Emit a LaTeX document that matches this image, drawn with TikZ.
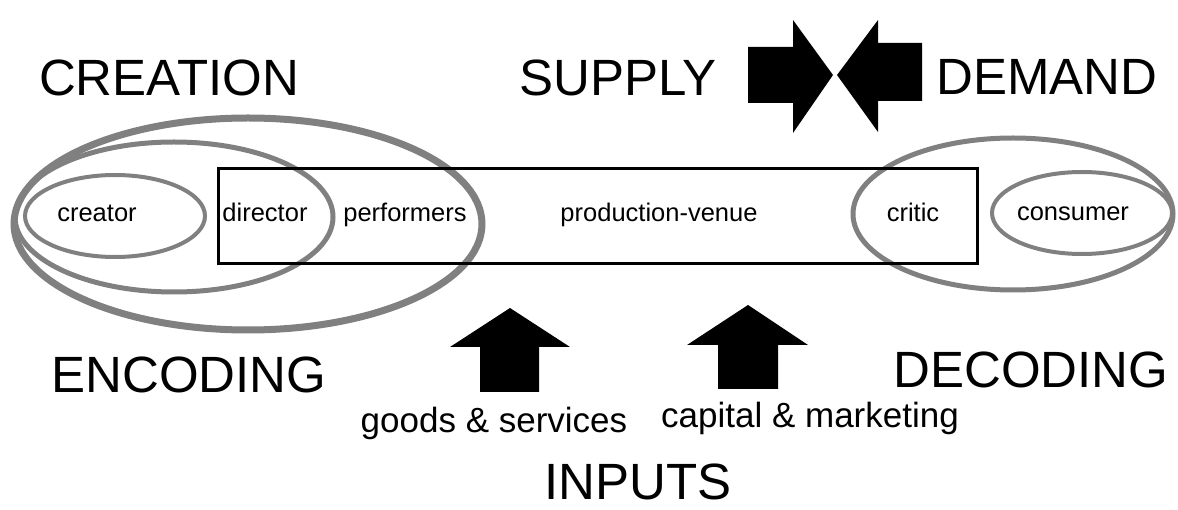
\documentclass[tikz,border=0pt]{standalone}
\usepackage{fontspec}
\setmainfont{Liberation Sans}
\begin{document}
\begin{tikzpicture}[x=1pt,y=-1pt,
  ring/.style={draw=ringgray},
  big/.style={font=\fontsize{51}{51}\selectfont, inner sep=0pt, anchor=base},
  mid/.style={font=\fontsize{35}{35}\selectfont, inner sep=0pt, anchor=base},
  small/.style={font=\fontsize{25.5}{25.5}\selectfont, inner sep=0pt, anchor=base},
  blockarrow/.style={fill=black, draw=none}]
\definecolor{ringgray}{RGB}{128,128,128}
\useasboundingbox[fill=white] (0,0) rectangle (1178,510);

% encoding side: nested ellipses
\draw[ring, line width=7pt] (248,224) ellipse [x radius=234pt, y radius=106pt];
\draw[ring, line width=5pt] (174,217) ellipse [x radius=159pt, y radius=75pt];
\draw[ring, line width=4pt] (115,216) ellipse [x radius=90pt, y radius=41pt];

% decoding side
\draw[ring, line width=5pt] (1013,214) ellipse [x radius=160pt, y radius=76pt];
\draw[ring, line width=4pt] (1082,213) ellipse [x radius=90pt, y radius=41pt];

% production box
\draw[line width=3pt] (218,169) rectangle (977,264);

% labels inside
\node[small] (creator)   at (97,222)  {creator};
\node[small] (director)  at (265,222) {director};
\node[small] (perf)      at (405,222) {performers};
\node[small] (venue)     at (659,222) {production-venue};
\node[small] (critic)    at (913,222) {critic};
\node[small] (consumer)  at (1073,221) {consumer};

% headings
\node[big] (creation) at (169,96)  {CREATION};
\node[big] (supply)   at (618,96)  {SUPPLY};
\node[big] (demand)   at (1047,95) {DEMAND};
\node[big] (encoding) at (189,393) {ENCODING};
\node[big] (decoding) at (1031,388) {DECODING};
\node[big, text depth=0pt] (inputs) at (638,499) {INPUTS};
\node[mid] (goods)    at (494,432) {goods \& services};
\node[mid] (capital)  at (810,428) {capital \& marketing};

% supply and demand arrows meeting
\fill[blockarrow] (748,47) -- (793,47) -- (793,20) -- (833,75) -- (793,133) -- (793,103) -- (748,103) -- cycle;
\fill[blockarrow] (922,43) -- (878,43) -- (878,20) -- (837,75) -- (878,132) -- (878,101) -- (922,101) -- cycle;

% input arrows
\fill[blockarrow] (480,392) -- (480,347) -- (450,347) -- (510,308) -- (570,347) -- (539,347) -- (539,392) -- cycle;
\fill[blockarrow] (718,389) -- (718,345) -- (687,345) -- (748,305) -- (808,345) -- (778,345) -- (778,389) -- cycle;
\end{tikzpicture}
\end{document}
